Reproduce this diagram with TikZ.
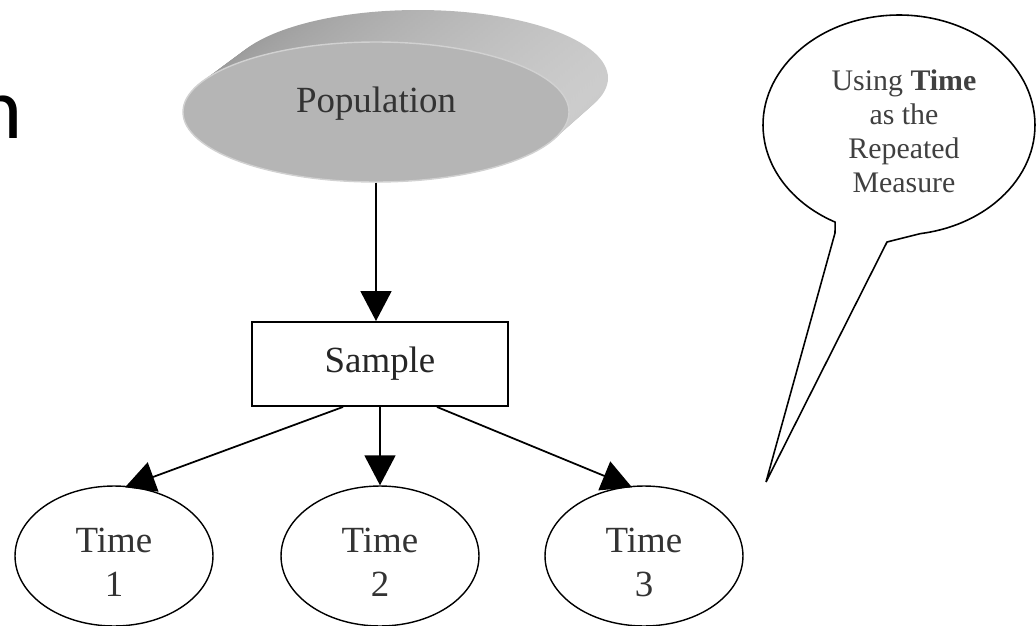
\documentclass[tikz,border=0pt]{standalone}
\usepackage{fontspec}
\setmainfont{Liberation Serif}
\newfontfamily\slidefont{Carlito}
\usetikzlibrary{shapes.geometric,arrows.meta}
\tikzset{
  edge/.style={line width=1pt,-{Triangle[length=0.6cm,width=0.62cm]}},
  timenode/.style={draw,ellipse,line width=0.8pt,minimum width=3.96cm,minimum height=2.8cm,inner sep=0pt},
  samplebox/.style={draw,rectangle,line width=1.1pt,minimum width=5.12cm,minimum height=1.68cm}
}
\begin{document}
\begin{tikzpicture}[x=0.02cm,y=0.02cm,every node/.style={font=\fontsize{21}{25}\selectfont,text=black!80}]
\def\u{0.02cm}
\pgfmathsetmacro{\kn}{16}
\useasboundingbox (0,0) rectangle (1036,-626);
\node[anchor=base east,inner sep=0pt,text=black,font=\slidefont\fontsize{50}{50}\selectfont] (title) at (23,-138) {n};
\foreach \k in {0,...,16}{\pgfmathsetmacro{\kx}{418-42*\k/\kn}\pgfmathsetmacro{\ky}{-78-34*\k/\kn}\pgfmathsetmacro{\krx}{(190+3*\k/\kn)*0.02}\pgfmathsetmacro{\kry}{(68+2*\k/\kn)*0.02}
\shade[left color=black!40,right color=black!20](\kx,\ky)ellipse[x radius=\krx cm,y radius=\kry cm];}
\node[ellipse,fill=black!29,draw=black!18,line width=0.8pt,minimum width=386*\u,minimum height=140*\u,label={[yshift=8.5*\u]center:Population}] (pop) at (376,-112) {};
\node[samplebox,text=black!85] (sample) at (380,-364) {Sample};
\foreach \i/\tx in {1/114,2/380,3/644}{\node[timenode,label={[yshift=-6.5*\u,align=center]center:Time\\\i}] (t\i) at (\tx,-556) {};}
\draw[edge](pop.south)--(pop.south |- sample.north);
\draw[edge]([xshift=-37*\u]sample.south)--([xshift=11*\u,yshift=-2*\u]t1.north);
\draw[edge](sample.south)--(t2.north);
\draw[edge]([xshift=57*\u]sample.south)--([xshift=-12*\u,yshift=-2*\u]t3.north);
\coordinate (bubble) at (899,-125);
\draw[line width=0.9pt](bubble)++(-81:2.72cm and 2.2cm)arc[start angle=-81,end angle=242,x radius=2.72cm,y radius=2.2cm]--(835,-233)--(766,-482)--(887,-242)--cycle;
\node[font=\fontsize{17}{19.4}\selectfont,text=black!75,align=center] (note) at (904,-131.5) {Using \textbf{Time}\\as the\\Repeated\\Measure};
\end{tikzpicture}
\end{document}
